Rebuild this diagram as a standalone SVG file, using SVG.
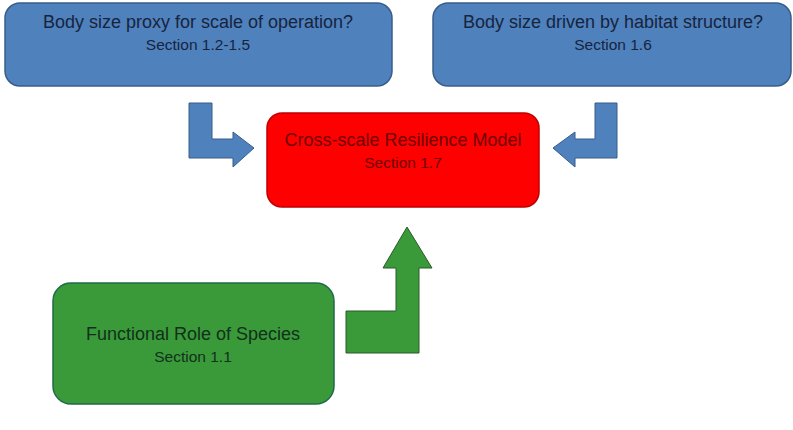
<svg xmlns="http://www.w3.org/2000/svg" width="793" height="430" viewBox="0 0 793 430">
<style>
.t1{font-family:"Liberation Sans",Arial,sans-serif;font-size:18px;text-anchor:middle}
.t2{font-family:"Liberation Sans",Arial,sans-serif;font-size:15.5px;text-anchor:middle}
.blue{fill:#4f81bd;stroke:#385d8a;stroke-width:1.5}
.bt{fill:#17243d}
.red{fill:#ff0000;stroke:#c00000;stroke-width:1.5}
.rt{fill:#6e0000}
.green{fill:#3a9a3a;stroke:#1f6b4a;stroke-width:1.5}
.gt{fill:#12301a}
.ablue{fill:#4f81bd;stroke:#385d8a;stroke-width:1}
.agreen{fill:#3a9a3a;stroke:#2a5a2a;stroke-width:1}
</style>
<rect width="793" height="430" fill="#ffffff"/>
<g id="node-body-size-proxy">
<rect class="blue" x="5" y="3" width="387" height="83" rx="15"/>
<text class="t1 bt" x="198" y="28">Body size proxy for scale of operation?</text>
<text class="t2 bt" x="198" y="50">Section 1.2-1.5</text>
</g>
<g id="node-habitat">
<rect class="blue" x="433" y="3" width="358" height="83" rx="15"/>
<text class="t1 bt" x="613" y="28">Body size driven by habitat structure?</text>
<text class="t2 bt" x="613" y="50">Section 1.6</text>
</g>
<g id="node-cross-scale">
<rect class="red" x="267" y="113" width="272" height="94" rx="15"/>
<text class="t1 rt" x="403" y="146">Cross-scale Resilience Model</text>
<text class="t2 rt" x="403" y="168">Section 1.7</text>
</g>
<g id="node-functional">
<rect class="green" x="53" y="283" width="281" height="121" rx="18"/>
<text class="t1 gt" x="193" y="340">Functional Role of Species</text>
<text class="t2 gt" x="193" y="362">Section 1.1</text>
</g>
<g id="connectors">
<polygon class="ablue" points="189,103 212,103 212,139 233,139 233,132 254,148 233,167 233,158 189,158"/>
<polygon class="ablue" points="617,103 595,103 595,139 575,139 575,132 553,148 575,167 575,158 617,158"/>
<polygon class="agreen" points="346,311 396,311 396,268 383,268 407,227 432,268 419,268 419,353 346,353"/>
</g>
</svg>
